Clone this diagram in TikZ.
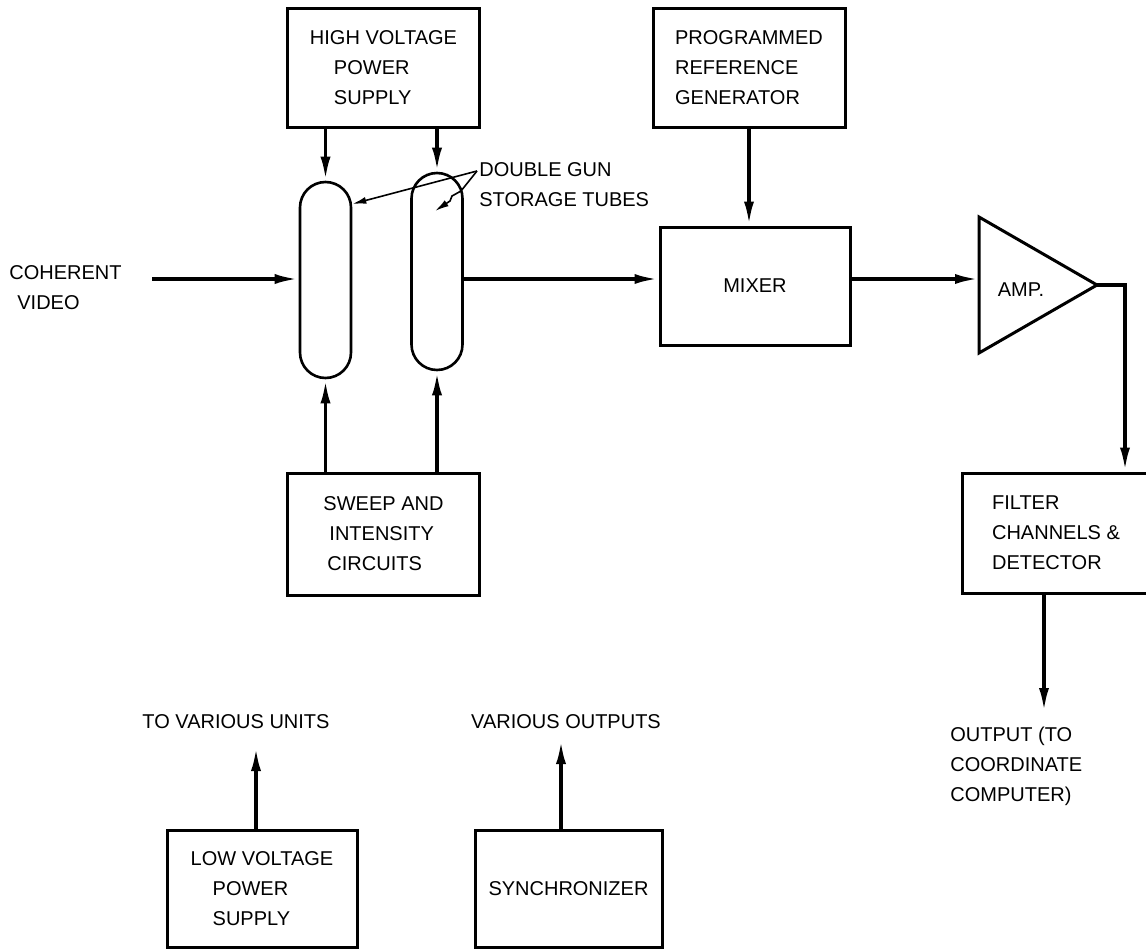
\documentclass[tikz,border=0pt]{standalone}
\usepackage{fontspec}
\setmainfont{Liberation Sans}
\usetikzlibrary{arrows.meta, positioning, calc}

\begin{document}
\begin{tikzpicture}[
    x=0.5pt, y=-0.5pt,
    unit/.style={draw, rectangle, line width=1.5pt, align=left,
                 minimum width=96pt, minimum height=59.5pt,
                 font=\fontsize{10}{15}\selectfont, inner sep=0pt},
    tube/.style={draw, rectangle, line width=1.3pt, rounded corners=12.75pt,
                 minimum width=25.5pt, inner sep=0pt},
    flow/.style={-{Latex[length=12pt, width=5pt]}, line width=1.8pt},
    leader/.style={-{Latex[length=7pt, width=3.5pt]}, line width=0.8pt},
    tag/.style={font=\fontsize{10}{15}\selectfont, align=left, inner sep=0pt}
  ]
    \useasboundingbox (0,0) rectangle (1146,948);

    \node[unit] (hvps) at (383.5,67.5)
      {HIGH VOLTAGE\\\hspace*{12pt}POWER\\\hspace*{12pt}SUPPLY};
    \node[unit] (refgen) at (749,67.5)
      {PROGRAMMED\\REFERENCE\\GENERATOR};
    \node[tube, minimum height=98pt] (tubeA) at (325.5,280) {};
    \node[tube, minimum height=98.5pt] (tubeB) at (437,271.5) {};
    \node[unit, minimum width=95pt, minimum height=59pt] (mixer) at (755,286) {MIXER};
    \node[unit, minimum height=61pt] (sweep) at (383.5,534)
      {SWEEP AND\\\hspace*{3pt}INTENSITY\\\hspace*{2pt}CIRCUITS};
    \node[unit, minimum width=94pt, minimum height=60pt] (filter) at (1056,533)
      {FILTER\\CHANNELS \&\\DETECTOR};
    \node[unit, minimum width=95pt, minimum height=58.5pt] (lvps) at (262,888.5)
      {LOW VOLTAGE\\\hspace*{11pt}POWER\\\hspace*{11pt}SUPPLY};
    \node[unit, minimum width=93.5pt, minimum height=58.5pt] (sync) at (568.5,888.5)
      {SYNCHRONIZER};

    % amplifier
    \coordinate (ampin) at (979,279);
    \coordinate (ampout) at (1097,285);
    \draw[line width=1.5pt, line join=miter] (979,217) -- (ampout) -- (979,353) -- cycle;
    \node[tag] (amp) at (1021,290) {AMP.};

    \node[tag, anchor=west] (video) at (9,288) {COHERENT\\\hspace*{4pt}VIDEO};
    \node[tag, anchor=west] (gunlabel) at (479,185) {DOUBLE GUN\\STORAGE TUBES};
    \node[tag] (tounits) at (236,722) {TO VARIOUS UNITS};
    \node[tag] (varout) at (566,722) {VARIOUS OUTPUTS};
    \node[tag, anchor=north west] (outlabel) at (950,727)
      {OUTPUT (TO\\COORDINATE\\COMPUTER)};

    \coordinate (vidin) at (152,279);
    \coordinate (gunpt) at (477,171);
    \coordinate (ampbend) at (1125,285);
    \coordinate (outtip) at (1044,712);
    \coordinate (lvtip) at (256,747);
    \coordinate (synctip) at (561,740);

    \draw[flow] (hvps.south -| tubeA.north) -- (tubeA.north);
    \draw[flow] (hvps.south -| tubeB.north) -- (tubeB.north);
    \draw[flow] (sweep.north -| tubeA.south) -- (tubeA.south);
    \draw[flow] (sweep.north -| tubeB.south) -- (tubeB.south);
    \draw[flow] (vidin) -- (vidin -| tubeA.west);
    \draw[flow] (tubeB.east |- vidin) -- (mixer.west |- vidin);
    \draw[flow] (refgen.south) -- (refgen.south |- mixer.north);
    \draw[flow] (mixer.east |- vidin) -- (ampin);
    \draw[flow] (ampout) -- (ampbend) -- (filter.north -| ampbend);
    \draw[flow] (filter.south -| outtip) -- (outtip);
    \draw[flow] (lvps.north -| lvtip) -- (lvtip);
    \draw[flow] (sync.north -| synctip) -- (synctip);

    \draw[leader] (gunpt) -- (tubeA.east |- 0,204);
    \draw[leader] (gunpt) -- (461,191) -- (452,196) -- (450,201) -- (435,211);
  \end{tikzpicture}
\end{document}
